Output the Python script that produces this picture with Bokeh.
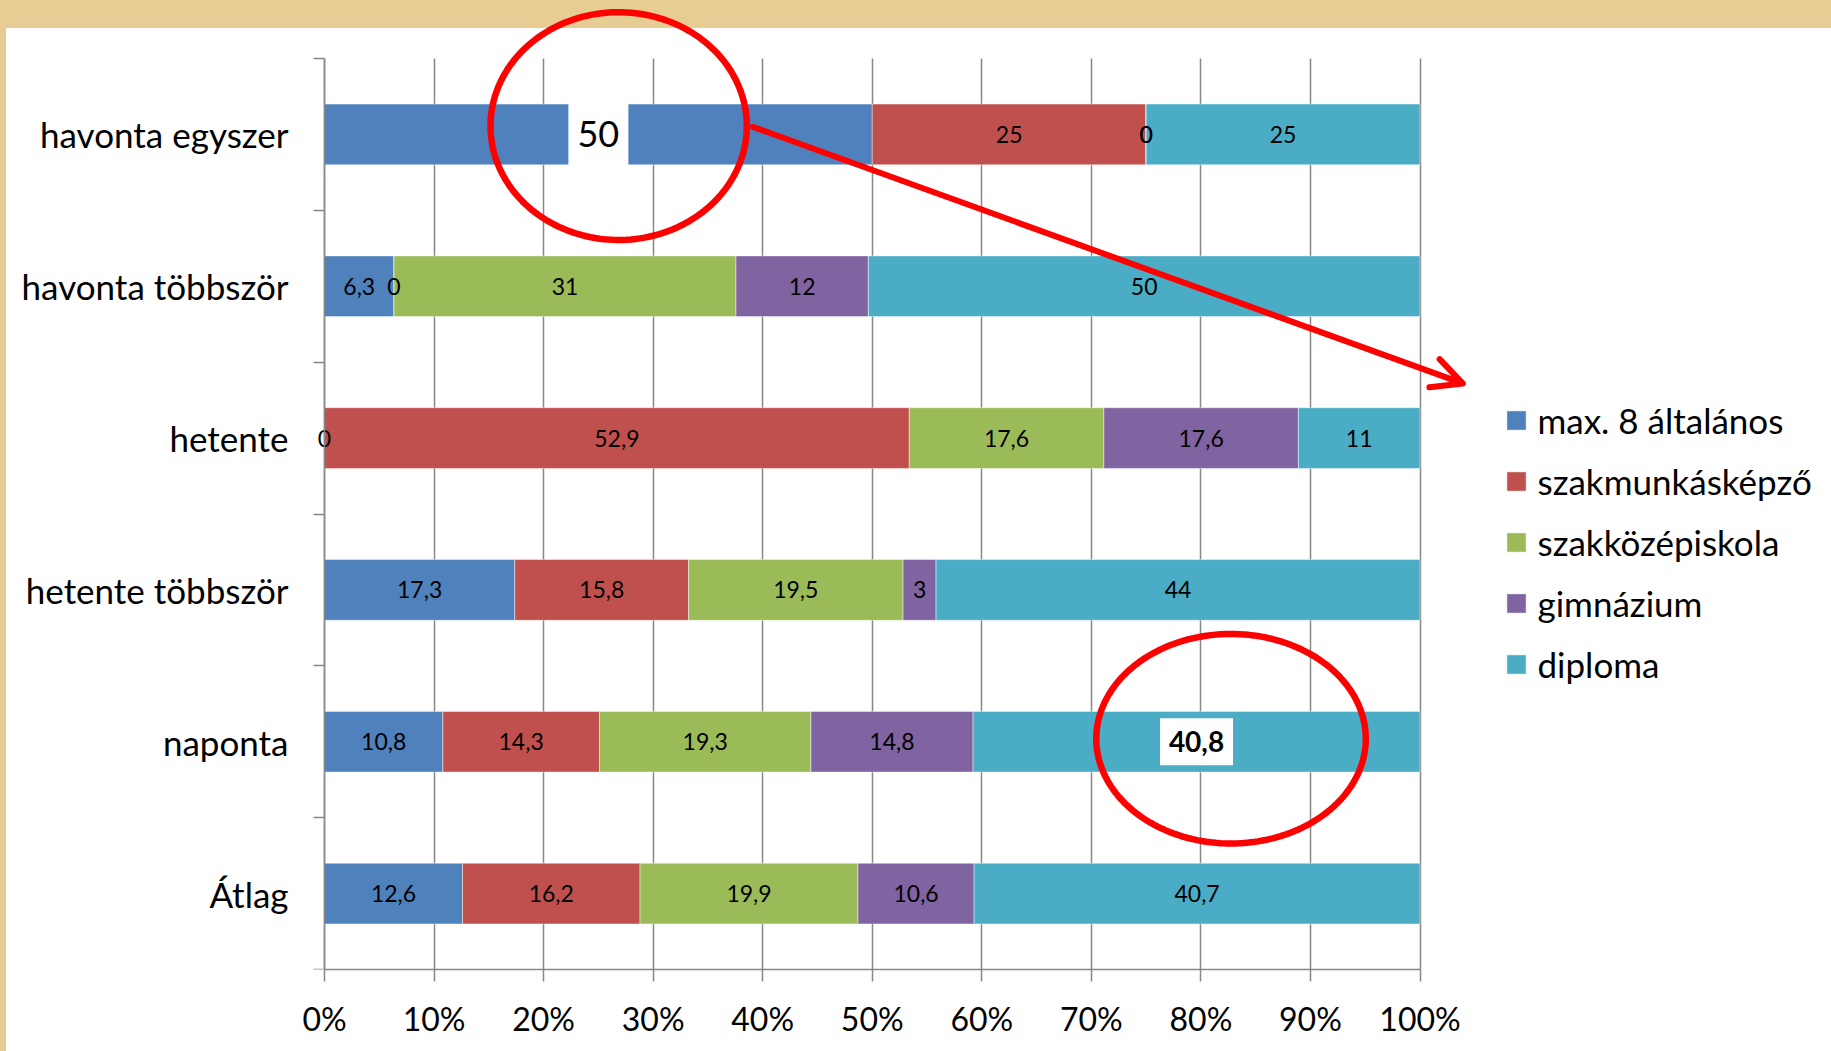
import numpy as np
from bokeh.plotting import figure
from bokeh.models import (ColumnDataSource, Range1d, FixedTicker, Legend, LegendItem,
                          Arrow, OpenHead, PolyAnnotation, LinearAxis)
from bokeh.core.properties import value
from bokeh.embed import file_html
from bokeh.resources import INLINE

# ---------------- data ----------------
categories = ["havonta egyszer", "havonta többször", "hetente",
              "hetente többször", "naponta", "Átlag"]
series_names = ["max. 8 általános", "szakmunkásképző", "szakközépiskola",
                "gimnázium", "diploma"]
colors = ["#4F81BD", "#C0504D", "#9BBB59", "#8064A2", "#4BACC6"]

max8 = [50, 6.3, 0, 17.3, 10.8, 12.6]
szakmunkas = [25, 0, 52.9, 15.8, 14.3, 16.2]
szakkozep = [0, 31, 17.6, 19.5, 19.3, 19.9]
gimnazium = [0, 12, 17.6, 3, 14.8, 10.6]
diploma = [25, 50, 11, 44, 40.8, 40.7]

x_ticks = [0, 10, 20, 30, 40, 50, 60, 70, 80, 90, 100]
x_tick_labels = ["0%", "10%", "20%", "30%", "40%", "50%", "60%", "70%",
                 "80%", "90%", "100%"]

# highlighted cells (category, series)
highlights = [("havonta egyszer", "max. 8 általános"), ("naponta", "diploma")]

FONT = "Lato"
TAN = "#E7CD93"
GRID = "#878787"

W, H = 1831, 1051
AXIS_X = 324           # pixel of the value axis origin
PAD_X = 16             # frame starts a little left of 0 % so the "0" labels are not clipped
BOTTOM = 82            # border below the frame (x axis)
PLOT_W = 1095.5        # pixel width of 0..100 %
PLOT_TOP = 58          # top of the category bands


def fmt(v):
    s = f"{v:g}"
    return s.replace(".", ",")


series = [max8, szakmunkas, szakkozep, gimnazium, diploma]
totals = np.sum(np.array(series, dtype=float), axis=0)
ys = list(range(len(categories)))
n = len(categories)

# frame covers everything right of / above the axes so that annotations are not clipped
px_x = PLOT_W / 100.0
x_start = -PAD_X / px_x
x_end = (W - AXIS_X) / px_x
band_px = (H - BOTTOM - PLOT_TOP) / n
y_top = -0.5 - PLOT_TOP / band_px
frame_left = AXIS_X - PAD_X

p = figure(width=W, height=H, output_backend="svg", toolbar_location=None,
           x_range=Range1d(x_start, x_end), y_range=Range1d(n - 0.5, y_top),
           min_border_left=frame_left, min_border_right=0, min_border_top=0,
           min_border_bottom=BOTTOM)
p.outline_line_color = None
p.border_fill_alpha = 0
p.background_fill_alpha = 0
p.styles = {"background": (f"linear-gradient(to bottom, {TAN} 28px, rgba(0,0,0,0) 28px), "
                           f"linear-gradient(to right, {TAN} 6px, #ffffff 6px)")}

# grid / axes
p.xgrid.ticker = FixedTicker(ticks=x_ticks)
p.xgrid.grid_line_color = GRID
p.xgrid.grid_line_width = 1.5
p.xgrid.cross_bounds = (-0.5, n - 0.5)
p.ygrid.visible = False

xa = p.xaxis[0]
xa.ticker = FixedTicker(ticks=x_ticks, minor_ticks=[])
xa.bounds = (0, 100)
xa.major_label_overrides = dict(zip(x_ticks, x_tick_labels))
xa.axis_line_color = GRID
xa.axis_line_width = 1.5
xa.major_tick_line_color = GRID
xa.major_tick_line_width = 1.5
xa.major_tick_in = 0
xa.major_tick_out = 12
xa.minor_tick_line_color = None
xa.major_label_text_font = FONT
xa.major_label_text_font_size = "32px"
xa.major_label_text_color = "black"
xa.major_label_standoff = 17

# category axis line + boundary ticks, pinned at 0 %
ya = p.yaxis[0]
ya.fixed_location = 0
ya.ticker = FixedTicker(ticks=[], minor_ticks=[i - 0.5 for i in range(n + 1)])
ya.bounds = (-0.5, n - 0.5)
ya.axis_line_color = GRID
ya.axis_line_width = 1.5
ya.major_tick_line_color = None
ya.major_tick_in = 0
ya.major_tick_out = 0
ya.minor_tick_line_color = GRID
ya.minor_tick_line_width = 1.5
ya.minor_tick_in = 0
ya.minor_tick_out = 11
ya.major_label_text_font_size = "0px"

# category labels
lab_axis = LinearAxis(ticker=FixedTicker(ticks=ys, minor_ticks=[]),
                      major_label_overrides=dict(zip(ys, categories)),
                      axis_line_color=None, major_tick_line_color=None,
                      minor_tick_line_color=None, major_tick_in=0, major_tick_out=0,
                      minor_tick_in=0, minor_tick_out=0,
                      major_label_standoff=20, major_label_text_font=FONT,
                      major_label_text_font_size="35px",
                      major_label_text_color="black")
p.add_layout(lab_axis, "left")
p.left = [lab_axis, ya]

# bars
left = np.zeros(n)
renderers = []
cell_pos = {}
lab_x, lab_y, lab_t = [], [], []
for k, vals in enumerate(series):
    pct = np.array(vals, dtype=float) / totals * 100.0
    right = left + pct
    mid = (left + right) / 2.0
    src = ColumnDataSource(dict(y=ys, left=left, right=right))
    r = p.hbar(y="y", left="left", right="right", height=0.4, source=src,
               fill_color=colors[k], line_color="white", line_alpha=0.45,
               line_width=1)
    renderers.append(r)
    for i, v in enumerate(vals):
        cell_pos[(categories[i], series_names[k])] = (mid[i], ys[i])
        if (categories[i], series_names[k]) in highlights:
            continue
        lab_x.append(mid[i])
        lab_y.append(ys[i])
        lab_t.append(fmt(v))
    left = right

lab_src = ColumnDataSource(dict(x=lab_x, y=lab_y, t=lab_t))
p.text(x="x", y="y", text="t", source=lab_src, text_align="center",
       text_baseline="middle", text_font=value(FONT), text_font_size="23px",
       text_color="black")

# highlighted labels in white boxes
hl_styles = [dict(w=60, h=61, size="36px", style="normal"),
             dict(w=73, h=47, size="28px", style="bold")]
for (cat, ser), st in zip(highlights, hl_styles):
    x0, y0 = cell_pos[(cat, ser)]
    v = series[series_names.index(ser)][categories.index(cat)]
    p.rect(x=[x0], y=[y0], width=st["w"], height=st["h"], width_units="screen",
           height_units="screen", fill_color="white", line_color=None)
    p.text(x=[x0], y=[y0], text=[fmt(v)], text_align="center",
           text_baseline="middle", text_font=value(FONT),
           text_font_size=st["size"], text_font_style=st["style"],
           text_color="black")

# red ellipses around the highlighted cells (offset, width, height in data units)
ell_specs = [(1.85, -0.055, 23.4, 1.50), (3.15, -0.02, 24.6, 1.38)]
t = np.linspace(0, 2 * np.pi, 180)
for (cat, ser), (dx, dy, w, h) in zip(highlights, ell_specs):
    x0, y0 = cell_pos[(cat, ser)]
    xs = (x0 + dx + w / 2 * np.cos(t)).tolist()
    ysx = (y0 + dy + h / 2 * np.sin(t)).tolist()
    p.add_layout(PolyAnnotation(xs=xs, ys=ysx, fill_color=None, fill_alpha=0,
                                line_color="#FF0000", line_alpha=1.0,
                                line_width=6.5, level="annotation"))

# red arrow from the first ellipse towards the legend
p.add_layout(Arrow(x_start=39.1, y_start=-0.05, x_end=103.9, y_end=1.64,
                   line_color="#FF0000", line_width=6, line_cap="round",
                   end=OpenHead(size=30, line_color="#FF0000", line_width=6,
                                line_cap="round", line_join="round")))

# legend (location measured from the frame's bottom-left corner)
legend = Legend(items=[LegendItem(label=nm, renderers=[r])
                       for nm, r in zip(series_names, renderers)],
                location=(1503.5 - frame_left, 283), orientation="vertical",
                glyph_width=24, glyph_height=24, label_standoff=10,
                label_height=44, spacing=17, padding=0, margin=0,
                label_text_font=FONT, label_text_font_size="35px",
                label_text_color="black", border_line_color=None,
                background_fill_alpha=0)
p.add_layout(legend, "center")

open("out.html", "w").write(file_html(p, INLINE))
